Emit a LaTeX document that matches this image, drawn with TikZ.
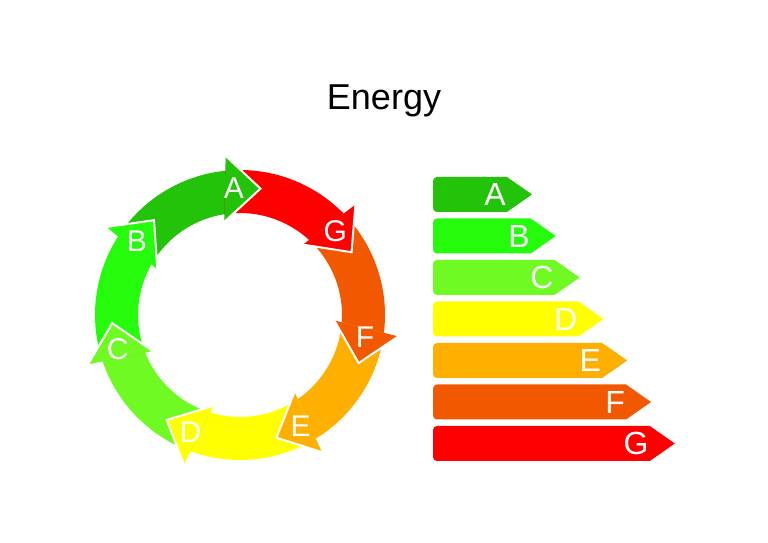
\documentclass[tikz,border=0pt]{standalone}
\usepackage{fontspec}
\setmainfont{Liberation Sans}
\usetikzlibrary{calc}

\definecolor{cA}{RGB}{35,195,10}
\definecolor{cB}{RGB}{36,252,12}
\definecolor{cC}{RGB}{112,250,36}
\definecolor{cD}{RGB}{255,255,0}
\definecolor{cE}{RGB}{255,175,0}
\definecolor{cF}{RGB}{242,88,0}
\definecolor{cG}{RGB}{255,0,0}

\begin{document}
\begin{tikzpicture}[
	x=1pt, y=1pt,
	every node/.style={
		text=white,
		inner sep=0pt,
		font=\fontsize{30}{30}\selectfont
	},
	headedge/.style={white, line width=2pt, line join=miter}
]
\useasboundingbox (0,0) rectangle (768,543);

\node[text=black, anchor=base, font=\fontsize{36}{36}\selectfont] (title) at (384,433) {Energy};

% ring of arrows, clockwise
\begin{scope}[shift={(240,228)}]
\foreach \l/\c [count=\k from 0] in {A/cA,G/cG,F/cF,E/cE,D/cD,C/cC,B/cB}{
	\pgfmathsetmacro{\so}{96.8-51.43*(\k-1)-1}
	\pgfmathsetmacro{\si}{96.8-51.43*(\k-1)+2}
	\pgfmathsetmacro{\eo}{96.8-51.43*\k-2}
	\pgfmathsetmacro{\ei}{96.8-51.43*\k+1}
	\fill[\c] (\so:145pt) arc[start angle=\so, end angle=\eo, radius=145pt]
		-- (\ei:102pt) arc[start angle=\ei, end angle=\si, radius=102pt] -- cycle;
}
\foreach \l/\c [count=\k from 0] in {A/cA,G/cG,F/cF,E/cE,D/cD,C/cC,B/cB}{
	\pgfmathsetmacro{\t}{96.8-51.43*\k}
	\pgfmathsetmacro{\m}{\t-8}
	\pgfmathsetmacro{\p}{\t-16}
	\pgfmathsetmacro{\q}{\t-4}
	\coordinate (m\l) at (\t:127pt);
	\coordinate (o\l) at ($(m\l)+(\m:33pt)$);
	\coordinate (i\l) at ($(m\l)-(\m:33pt)$);
	\coordinate (t\l) at (\p:128pt);
	\fill[\c] (o\l) -- (t\l) -- (i\l) -- cycle;
	\draw[headedge] (o\l) -- (t\l) -- (i\l);
	\node (r\l) at (\q:127pt) {\l};
}
\end{scope}

% rating bars
\foreach \l/\c [count=\k from 0] in {A/cA,B/cB,C/cC,D/cD,E/cE,F/cF,G/cG}{
	\pgfmathsetmacro{\tp}{366-41.5*\k}
	\pgfmathsetmacro{\bt}{\tp-35}
	\pgfmathsetmacro{\md}{\tp-17.5}
	\pgfmathsetmacro{\xe}{507+23.8*\k}
	\pgfmathsetmacro{\xt}{\xe+25}
	\fill[\c] (\xe,\tp) -- (\xt,\md) -- (\xe,\bt) -- (437,\bt)
		arc[start angle=270, end angle=180, radius=4pt] -- (433,\tp-4)
		arc[start angle=180, end angle=90, radius=4pt] -- cycle;
	\node[anchor=east, font=\fontsize{32}{32}\selectfont] (b\l) at (\xe-1,\md) {\l};
}
\end{tikzpicture}
\end{document}
